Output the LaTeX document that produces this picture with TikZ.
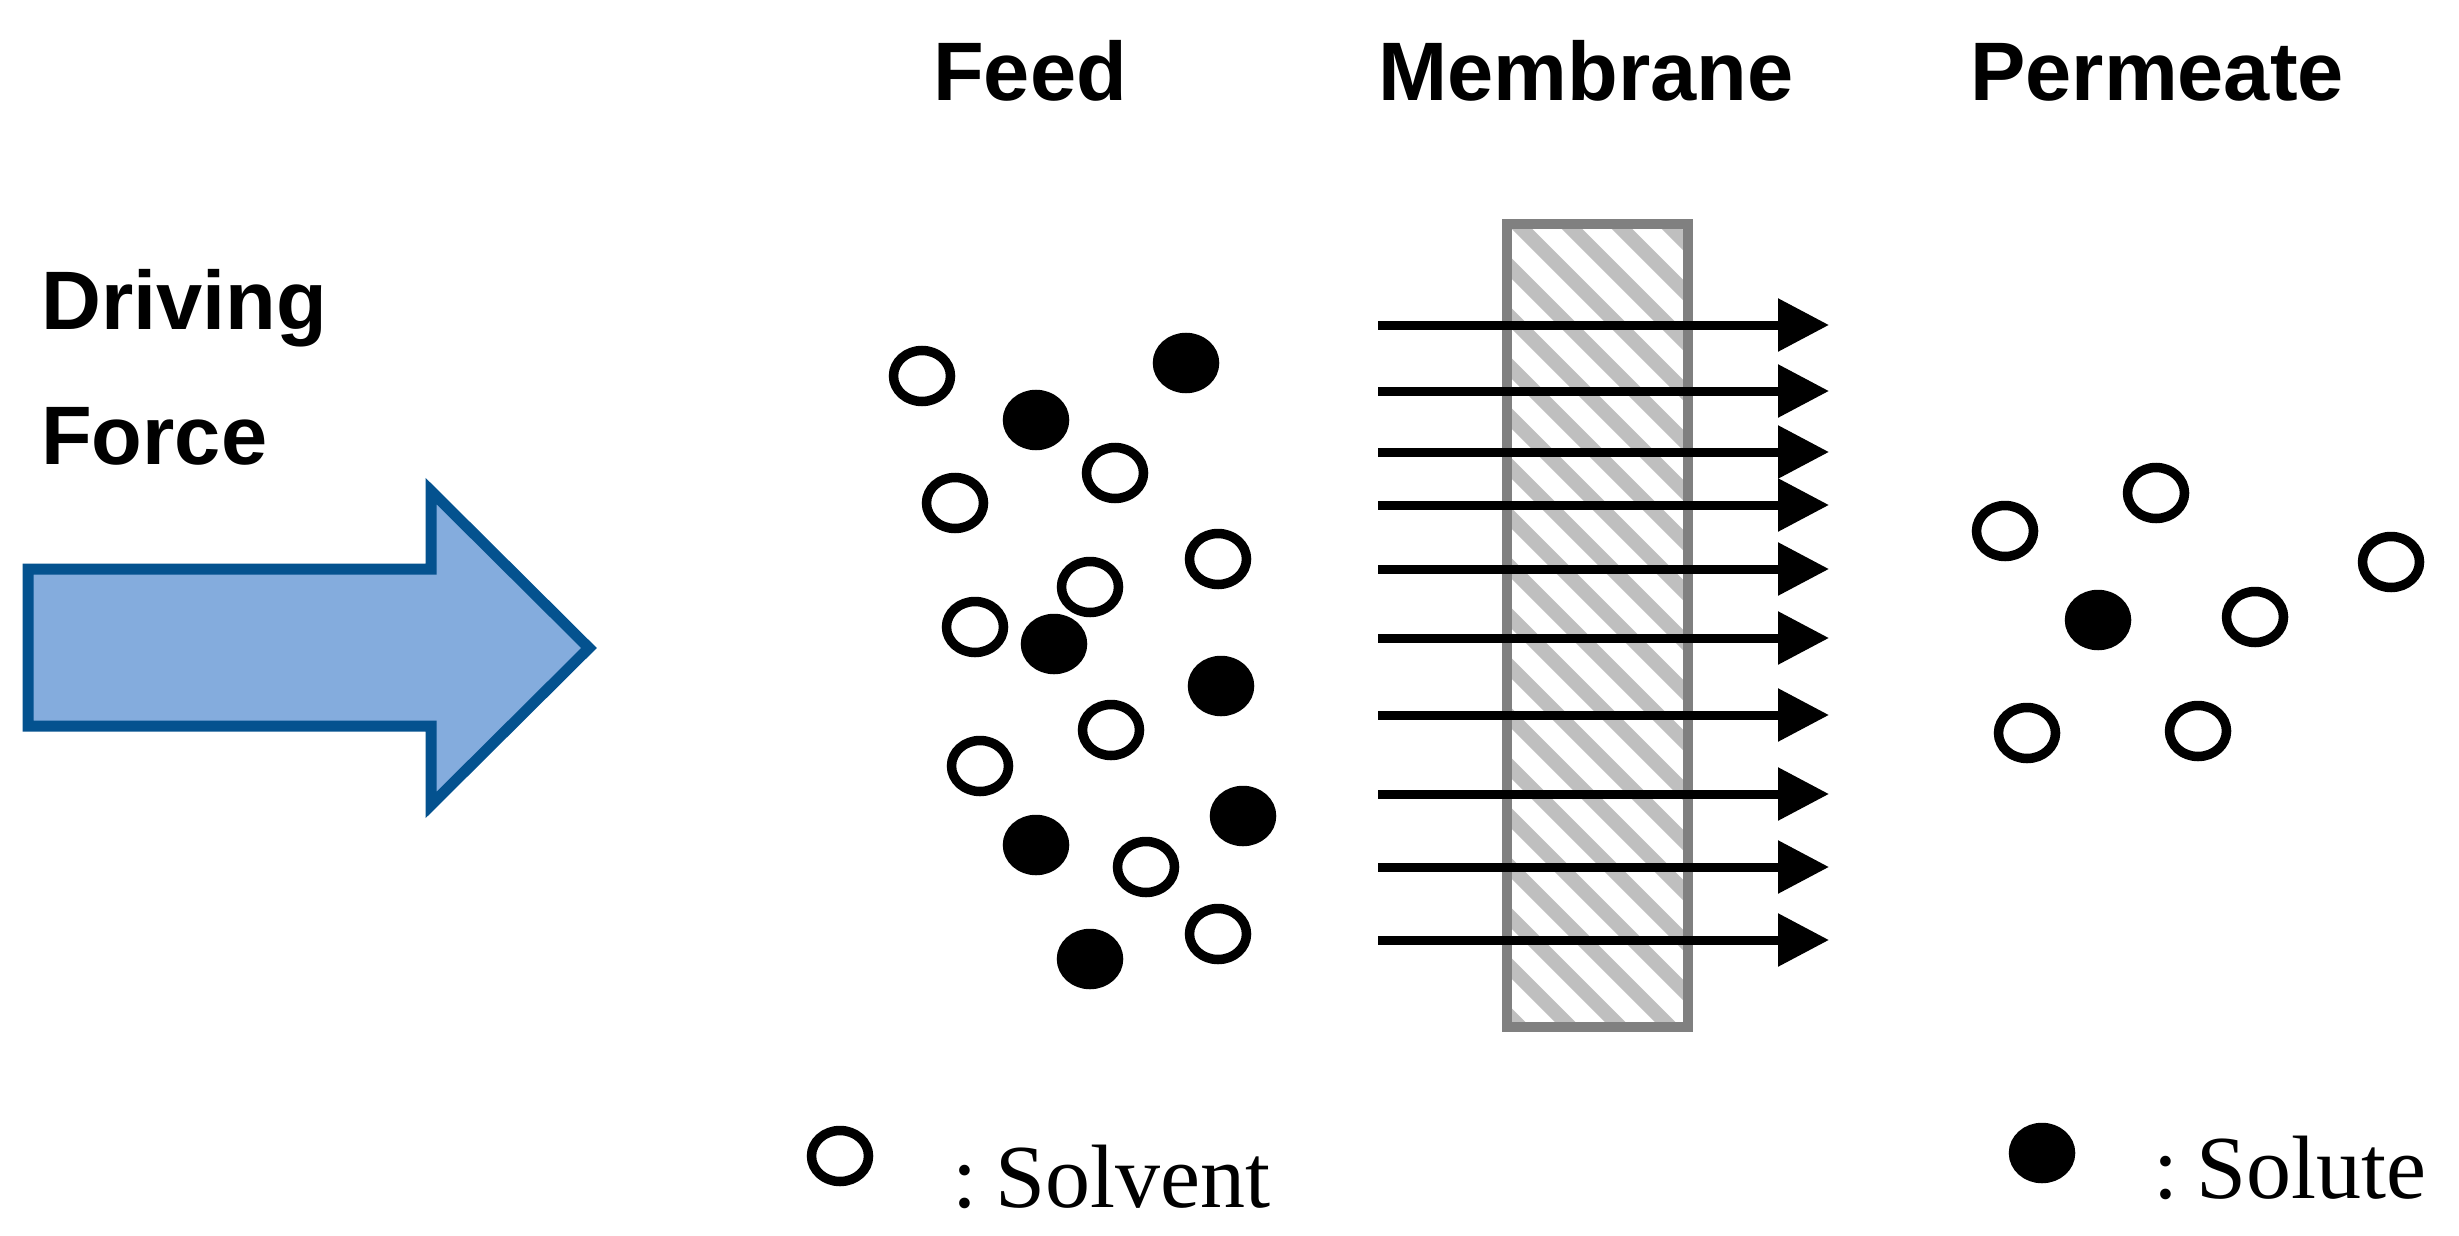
\documentclass[tikz,border=0pt]{standalone}
\usepackage{fontspec}
\setmainfont{Liberation Sans}
\newfontfamily\serifface{Liberation Serif}
\usetikzlibrary{arrows.meta,shapes.geometric}
\definecolor{arrowfill}{HTML}{84ACDD}
\definecolor{arrowedge}{HTML}{04528F}
\definecolor{memedge}{HTML}{808080}
\definecolor{memhatch}{HTML}{BFBFBF}
\tikzset{
  base/.style={shape=ellipse,minimum width=57pt,minimum height=51pt,inner sep=0pt,outer sep=0pt,line width=9.5pt,draw=black},
  solvent/.style={base,fill=white},
  solute/.style={base,fill=black},
  heading/.style={anchor=base west,inner sep=0pt,font=\fontsize{83}{83}\selectfont\bfseries},
  legendtext/.style={anchor=base west,inner sep=0pt,font=\serifface\fontsize{90}{90}\selectfont},
  flow/.style={line width=9pt,-{Triangle[length=51pt,width=51pt]}},
}
\begin{document}
\begin{tikzpicture}[x=1pt,y=-1pt]
\useasboundingbox (0,0) rectangle (2459,1236);
% headings
\node[heading] (feed) at (933,101) {Feed};
\node[heading] (membranelabel) at (1378,101) {Membrane};
\node[heading] (permeate) at (1970,101) {Permeate};
\node[heading] (driving) at (41,329) {Driving};
\node[heading] (force) at (41,464) {Force};
% driving arrow
\draw[line width=11pt,draw=arrowedge,fill=arrowfill,miter limit=10]
  (28,569) -- (431,569) -- (431,491) -- (589,648) -- (431,805) -- (431,726) -- (28,726) -- cycle;
% membrane
\fill[white] (1507,224) rectangle (1688,1026);
\begin{scope}
  \clip (1507,224) rectangle (1688,1026);
  \foreach \k in {-17,...,4}
    \draw[memhatch,line width=14.5pt] (1517+50*\k,224) -- ++(850,850);
\end{scope}
\draw[memedge,line width=9.5pt] (1507,224) rectangle (1688,1027);
% flow arrows
\foreach \n/\yy in {1/325,2/391,3/452,4/505,5/569,6/638,7/715,8/794,9/867,10/940}{
  \coordinate (fa\n) at (1378,\yy);
  \coordinate (fb\n) at (1829,\yy);
  \draw[flow] (fa\n) -- (fb\n);
}
% feed particles
\foreach \n/\px/\py in {1/922/376,2/955/503,3/1115/473,4/1218/559,5/1090/587,6/975/627,7/1111/730,8/980/766,9/1146/867,10/1218/934}
  \node[solvent] (fo\n) at (\px,\py) {};
\foreach \n/\px/\py in {1/1186/363,2/1036/420,3/1054/644,4/1221/686,5/1243/816,6/1036/845,7/1090/959}
  \node[solute] (fs\n) at (\px,\py) {};
% permeate particles
\foreach \n/\px/\py in {1/2005/531,2/2156/493,3/2391/562,4/2255/617,5/2027/733,6/2198/731}
  \node[solvent] (po\n) at (\px,\py) {};
\node[solute] (ps1) at (2098,620) {};
% legend
\node[solvent] (legendsolvent) at (840,1156) {};
\node[legendtext] (solventtext) at (952,1207) {:\hspace*{18pt}Solvent};
\node[legendtext] (solutetext) at (2153,1198) {:\hspace*{18pt}Solute};
\node[solute] (legendsolute) at (2042,1153) {};
\end{tikzpicture}
\end{document}
